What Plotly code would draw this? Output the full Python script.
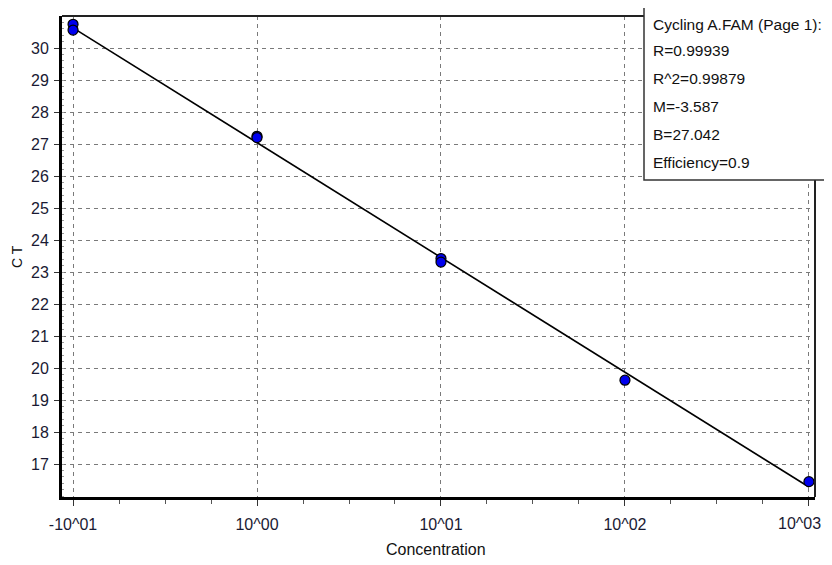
import plotly.graph_objects as go

# data
log_conc = [-1, -1, 0, 0, 1, 1, 2, 3]
ct_values = [30.74, 30.56, 27.24, 27.20, 23.42, 23.31, 19.62, 16.45]
x_tickvals = [-1, 0, 1, 2, 3]
x_ticktext = ["-10^01", "10^00", "10^01", "10^02", "10^03"]
y_tickvals = list(range(17, 31))
fit_slope = -3.587
fit_intercept = 27.042
fit_x = [-1, 3]
info_lines = ["Cycling A.FAM (Page 1):", "R=0.99939", "R^2=0.99879",
              "M=-3.587", "B=27.042", "Efficiency=0.9"]

FONT = "Liberation Sans, Arial, sans-serif"
# page body has an 8px margin; figure sized to fit inside the window
OFF = 8
W, H = 832 - OFF, 565 - 2 * OFF
# plot area edges in screen pixels
L, R, T, B = 62, 815, 16, 497

def px_x(px):
    return (px - L) / (R - L)

def px_y(py):
    return (B - py) / (B - T)

fit_y = [fit_intercept + fit_slope * v for v in fit_x]

fig = go.Figure()
fig.add_trace(go.Scatter(x=fit_x, y=fit_y, mode="lines",
                         line=dict(color="black", width=1.6),
                         hoverinfo="skip", showlegend=False))
fig.add_trace(go.Scatter(x=log_conc, y=ct_values, mode="markers",
                         marker=dict(color="#0000ee", size=10,
                                     line=dict(color="black", width=1.2)),
                         showlegend=False))

grid = dict(showgrid=True, gridcolor="#7a7a7a", gridwidth=1, griddash="4px,4px")

# last tick label is drawn separately so it stays inside the window
shown_ticktext = x_ticktext[:-1] + [""]

fig.update_xaxes(range=[-1.06, 3.033], tickvals=x_tickvals, ticktext=shown_ticktext,
                 ticks="outside", ticklen=6, tickwidth=1, tickcolor="#333",
                 minor=dict(dtick=0.25, tick0=-1, ticks="outside", ticklen=4,
                            tickcolor="#555", showgrid=False),
                 showline=True, linecolor="black", linewidth=3, zeroline=False,
                 tickfont=dict(family=FONT, size=16, color="#1a1a33"),
                 ticklabelstandoff=5,
                 automargin=False, **grid)
fig.update_yaxes(range=[15.97, 31.0], tickvals=y_tickvals,
                 ticks="outside", ticklen=5, tickwidth=1, tickcolor="#333",
                 minor=dict(dtick=0.2, ticks="inside", ticklen=2,
                            tickcolor="#999", showgrid=False),
                 showline=True, linecolor="black", linewidth=3, zeroline=False,
                 tickfont=dict(family=FONT, size=16, color="#1a1a33"),
                 ticklabelstandoff=2,
                 automargin=False, **grid)

fig.add_annotation(x=x_tickvals[-1], xref="x", yref="paper", y=px_y(523),
                   text=x_ticktext[-1], showarrow=False,
                   xanchor="right", yanchor="middle", xshift=14,
                   font=dict(family=FONT, size=16, color="#1a1a33"))

# axis titles
fig.add_annotation(xref="paper", yref="paper", x=px_x(436), y=px_y(549),
                   text="Concentration", showarrow=False,
                   xanchor="center", yanchor="middle",
                   font=dict(family=FONT, size=16, color="#111"))
fig.add_annotation(xref="paper", yref="paper", x=px_x(17), y=px_y(257),
                   text="C T", showarrow=False, textangle=-90,
                   xanchor="center", yanchor="middle",
                   font=dict(family=FONT, size=14, color="#111"))

# top and right border
fig.add_shape(type="line", xref="paper", yref="paper", x0=0, x1=1, y0=1, y1=1,
              line=dict(color="#222", width=2))
fig.add_shape(type="line", xref="paper", yref="paper", x0=1, x1=1, y0=0, y1=1,
              line=dict(color="#222", width=2))

# info box
fig.add_shape(type="rect", xref="paper", yref="paper",
              x0=px_x(644), x1=px_x(860), y0=px_y(180), y1=px_y(5),
              line=dict(color="#333", width=1.5), fillcolor="white", layer="above")
line_y = [24, 51, 79, 107, 135, 163]
for txt, py in zip(info_lines, line_y):
    fig.add_annotation(xref="paper", yref="paper", x=px_x(652), y=px_y(py),
                       xanchor="left", yanchor="middle", text=txt, showarrow=False,
                       borderpad=0,
                       font=dict(family=FONT, size=15.5, color="#111"))

fig.update_layout(width=W, height=H,
                  margin=dict(l=L - OFF, r=(832 - R), t=T - OFF,
                              b=(565 - OFF - B)),
                  paper_bgcolor="white", plot_bgcolor="white")

fig.write_html("out.html")
